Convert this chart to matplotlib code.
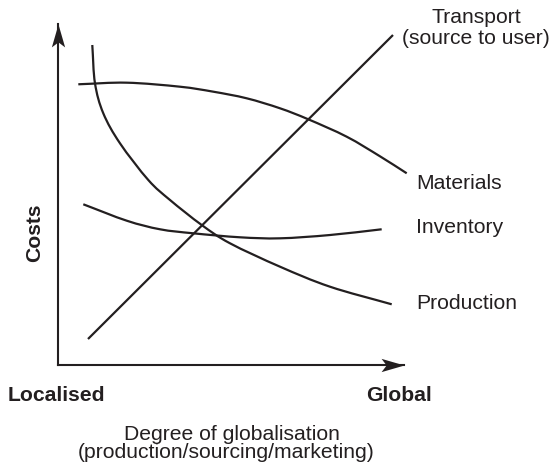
import matplotlib
matplotlib.use("Agg")
import matplotlib.pyplot as plt
import numpy as np
from matplotlib.path import Path
from matplotlib.patches import PathPatch
from matplotlib.markers import MarkerStyle
from matplotlib.transforms import Affine2D

plt.rcParams['font.family'] = ['Liberation Sans', 'DejaVu Sans']

INK = '#231f20'

# Curves (x = degree of globalisation 0-100, y = cost 0-100)
transport_x = [8.67, 96.82]
transport_y = [7.62, 96.77]

materials_x = [5.87, 19.86, 35.26, 44.88, 54.54, 64.16, 72.34, 83.44, 93.06, 100.78]
materials_y = [82.32, 82.79, 81.61, 80.15, 78.21, 75.28, 72.05, 66.95, 61.20, 56.22]

inventory_x = [7.31, 19.86, 29.48, 39.10, 52.60, 64.16, 78.61, 93.55]
inventory_y = [47.13, 42.32, 39.80, 38.62, 37.45, 37.15, 38.12, 39.80]

production_x = [9.91, 10.69, 13.09, 17.92, 26.10, 32.37, 41.53, 49.71, 64.16, 78.61, 96.45]
production_y = [93.84, 82.61, 73.81, 65.01, 54.25, 48.39, 41.06, 35.69, 28.83, 22.96, 17.80]

curve_labels = ['Materials', 'Inventory', 'Production']

W, H = 552, 466
fig = plt.figure(figsize=(W / 100, H / 100), dpi=100)
ax = fig.add_axes([58 / W, (H - 365) / H, (404 - 58) / W, (365 - 24) / H])
ax.set_xlim(0, 100)
ax.set_ylim(0, 100)
for s in ['top', 'right']:
    ax.spines[s].set_visible(False)
for s in ['left', 'bottom']:
    ax.spines[s].set_linewidth(1.5)
    ax.spines[s].set_color(INK)
ax.set_xticks([])
ax.set_yticks([])
ax.patch.set_alpha(0)

lw = 1.6


def smooth_path(xs, ys):
    """Catmull-Rom curve through the points, expressed as cubic Bezier path."""
    p = np.column_stack([xs, ys]).astype(float)
    ext = np.vstack([2 * p[0] - p[1], p, 2 * p[-1] - p[-2]])
    verts = [p[0]]
    codes = [Path.MOVETO]
    for i in range(1, len(ext) - 2):
        p0, p1, p2, p3 = ext[i - 1], ext[i], ext[i + 1], ext[i + 2]
        verts += [p1 + (p2 - p0) / 6, p2 - (p3 - p1) / 6, p2]
        codes += [Path.CURVE4] * 3
    return Path(verts, codes)


ax.plot(transport_x, transport_y, color=INK, lw=lw, clip_on=False, solid_capstyle='butt')
for xs, ys in [(materials_x, materials_y), (inventory_x, inventory_y),
               (production_x, production_y)]:
    ax.add_patch(PathPatch(smooth_path(xs, ys), fill=False, edgecolor=INK, lw=lw,
                           clip_on=False, capstyle='butt'))

# stealth arrowheads
head = Path([(0, 0), (-1, 0.29), (-0.78, 0), (-1, -0.29), (0, 0)],
            [Path.MOVETO, Path.LINETO, Path.LINETO, Path.LINETO, Path.CLOSEPOLY])
m_right = MarkerStyle(head)
m_up = MarkerStyle(head, transform=Affine2D().rotate_deg(90))
ax.plot([100], [0], marker=m_right, ms=33, color=INK, mew=0, clip_on=False)
ax.plot([0], [100], marker=m_up, ms=33, color=INK, mew=0, clip_on=False)

fs = 15.2
def ft(x, y, s, **kw):
    fig.text(x / W, 1 - y / H, s, color=INK, fontsize=kw.pop('fontsize', fs), **kw)

ft(476, 23.3, 'Transport', ha='center', va='baseline')
ft(476, 44.5, '(source to user)', ha='center', va='baseline')
ft(416, 189.3, curve_labels[0], ha='left', va='baseline')
ft(416, 232.7, curve_labels[1], ha='left', va='baseline')
ft(416, 309.3, curve_labels[2], ha='left', va='baseline')
ft(8, 400.7, 'Localised', ha='left', va='baseline', fontweight='bold')
ft(399.3, 400.7, 'Global', ha='center', va='baseline', fontweight='bold')
ft(35, 204, 'Costs', ha='right', va='center', rotation=90, fontweight='bold',
   rotation_mode='anchor')
ft(231.8, 440, 'Degree of globalisation', ha='center', va='baseline')
ft(226.5, 458.5, '(production/sourcing/marketing)', ha='center', va='baseline')

fig.savefig('out.png', dpi=100)
